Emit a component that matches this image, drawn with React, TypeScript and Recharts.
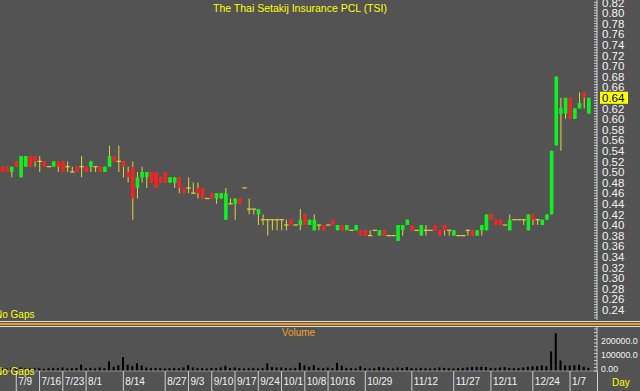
import React from "react";
import { ComposedChart, Bar, XAxis, YAxis } from "recharts";

// trading days, one candle each (index = day number)
const tickDays = [3, 8, 13, 18, 26, 35, 40, 45, 50, 55, 60, 65, 70, 78, 88, 97, 105, 114, 122];
const tickLabels = ["7/9", "7/16", "7/23", "8/1", "8/14", "8/27", "9/3", "9/10", "9/17", "9/24", "10/1", "10/8", "10/16", "10/29", "11/12", "11/27", "12/11", "12/24", "1/7"];

const opens = [
  0.51, 0.51, 0.5, 0.52, 0.49, 0.51, 0.53, 0.53, 0.52, 0.52, 0.51, 0.51, 0.52, 0.52, 0.51, 0.5, 0.51, 0.51, 0.51, 0.51,
  0.51, 0.51, 0.5, 0.51, 0.53, 0.52, 0.52, 0.5, 0.51, 0.47, 0.49, 0.49, 0.5, 0.5, 0.49, 0.5, 0.48, 0.48, 0.49, 0.47,
  0.47, 0.46, 0.47, 0.47, 0.45, 0.46, 0.45, 0.45, 0.41, 0.44, 0.44, 0.45, 0.47, 0.43, 0.43, 0.42, 0.41, 0.41, 0.41, 0.41,
  0.41, 0.4, 0.41, 0.4, 0.4, 0.42, 0.4, 0.39, 0.4, 0.4, 0.4, 0.41, 0.39, 0.4, 0.39, 0.39, 0.39, 0.39, 0.39, 0.38,
  0.39, 0.38, 0.39, 0.38, 0.38, 0.37, 0.39, 0.4, 0.4, 0.39, 0.38, 0.39, 0.39, 0.4, 0.39, 0.4, 0.39, 0.38, 0.38, 0.38,
  0.39, 0.39, 0.38, 0.39, 0.39, 0.42, 0.41, 0.41, 0.4, 0.39, 0.41, 0.41, 0.41, 0.39, 0.42, 0.41, 0.4, 0.41, 0.42, 0.55,
  0.61, 0.61, 0.64, 0.6, 0.62, 0.65, 0.61,
];
const highs = [
  0.51, 0.51, 0.51, 0.52, 0.53, 0.53, 0.53, 0.53, 0.53, 0.52, 0.51, 0.52, 0.52, 0.52, 0.52, 0.51, 0.51, 0.53, 0.51, 0.52,
  0.51, 0.51, 0.51, 0.55, 0.53, 0.55, 0.52, 0.51, 0.52, 0.5, 0.51, 0.5, 0.5, 0.5, 0.49, 0.5, 0.49, 0.49, 0.49, 0.47,
  0.49, 0.48, 0.48, 0.47, 0.45, 0.46, 0.46, 0.46, 0.47, 0.45, 0.45, 0.45, 0.47, 0.45, 0.43, 0.43, 0.42, 0.41, 0.41, 0.41,
  0.41, 0.41, 0.41, 0.4, 0.43, 0.42, 0.41, 0.42, 0.4, 0.4, 0.4, 0.41, 0.4, 0.4, 0.4, 0.39, 0.4, 0.39, 0.39, 0.39,
  0.39, 0.39, 0.39, 0.38, 0.38, 0.4, 0.4, 0.41, 0.4, 0.39, 0.4, 0.4, 0.39, 0.4, 0.39, 0.4, 0.39, 0.39, 0.38, 0.38,
  0.39, 0.39, 0.39, 0.4, 0.42, 0.42, 0.41, 0.41, 0.4, 0.42, 0.41, 0.41, 0.41, 0.42, 0.42, 0.41, 0.41, 0.42, 0.54, 0.68,
  0.64, 0.64, 0.64, 0.62, 0.65, 0.65, 0.64,
];
const lows = [
  0.5, 0.5, 0.49, 0.51, 0.49, 0.51, 0.51, 0.51, 0.5, 0.51, 0.51, 0.51, 0.5, 0.5, 0.5, 0.5, 0.5, 0.49, 0.5, 0.5,
  0.5, 0.5, 0.5, 0.51, 0.52, 0.5, 0.49, 0.48, 0.41, 0.45, 0.48, 0.47, 0.48, 0.47, 0.48, 0.48, 0.48, 0.47, 0.46, 0.46,
  0.46, 0.46, 0.45, 0.45, 0.45, 0.45, 0.44, 0.45, 0.41, 0.44, 0.41, 0.44, 0.47, 0.42, 0.42, 0.4, 0.4, 0.38, 0.39, 0.39,
  0.39, 0.39, 0.4, 0.4, 0.39, 0.4, 0.4, 0.39, 0.39, 0.39, 0.4, 0.4, 0.39, 0.39, 0.39, 0.39, 0.39, 0.38, 0.38, 0.38,
  0.39, 0.38, 0.38, 0.38, 0.38, 0.37, 0.38, 0.4, 0.39, 0.39, 0.38, 0.38, 0.39, 0.39, 0.38, 0.38, 0.38, 0.38, 0.38, 0.38,
  0.38, 0.38, 0.38, 0.38, 0.39, 0.41, 0.4, 0.4, 0.4, 0.39, 0.41, 0.41, 0.4, 0.39, 0.4, 0.4, 0.4, 0.41, 0.42, 0.55,
  0.54, 0.6, 0.6, 0.6, 0.62, 0.62, 0.61,
];
const closes = [
  0.5, 0.5, 0.51, 0.51, 0.53, 0.53, 0.51, 0.52, 0.52, 0.51, 0.51, 0.52, 0.51, 0.5, 0.51, 0.5, 0.5, 0.51, 0.5, 0.52,
  0.51, 0.5, 0.51, 0.53, 0.52, 0.52, 0.51, 0.49, 0.45, 0.49, 0.5, 0.5, 0.48, 0.47, 0.48, 0.48, 0.49, 0.49, 0.47, 0.46,
  0.47, 0.46, 0.46, 0.45, 0.45, 0.45, 0.46, 0.46, 0.46, 0.44, 0.45, 0.44, 0.47, 0.43, 0.43, 0.43, 0.41, 0.41, 0.41, 0.41,
  0.41, 0.4, 0.4, 0.4, 0.41, 0.4, 0.41, 0.41, 0.4, 0.39, 0.4, 0.4, 0.4, 0.39, 0.4, 0.39, 0.4, 0.38, 0.38, 0.38,
  0.39, 0.39, 0.38, 0.38, 0.38, 0.4, 0.4, 0.41, 0.39, 0.39, 0.4, 0.39, 0.39, 0.39, 0.38, 0.39, 0.39, 0.39, 0.38, 0.38,
  0.39, 0.38, 0.39, 0.4, 0.42, 0.41, 0.4, 0.4, 0.4, 0.41, 0.41, 0.41, 0.41, 0.42, 0.41, 0.41, 0.41, 0.42, 0.54, 0.68,
  0.62, 0.64, 0.6, 0.62, 0.63, 0.64, 0.64,
];
const volumes = [
  20000, 18000, 22000, 20000, 25000, 20000, 18000, 22000, 20000, 15000, 20000, 22000, 20000, 25000, 18000, 20000, 22000, 45000, 20000, 22000,
  18000, 25000, 20000, 70000, 30000, 40000, 100000, 45000, 35000, 55000, 40000, 25000, 20000, 22000, 20000, 18000, 20000, 22000, 20000, 25000,
  42000, 25000, 22000, 20000, 18000, 22000, 20000, 25000, 38000, 22000, 25000, 20000, 18000, 20000, 22000, 18000, 20000, 55000, 28000, 25000,
  25000, 22000, 20000, 22000, 60000, 40000, 30000, 42000, 22000, 20000, 25000, 20000, 58000, 38000, 22000, 20000, 18000, 35000, 20000, 18000,
  20000, 30000, 25000, 20000, 18000, 25000, 22000, 28000, 20000, 18000, 22000, 20000, 18000, 20000, 25000, 22000, 20000, 18000, 20000, 22000,
  25000, 28000, 30000, 30000, 28000, 22000, 20000, 25000, 28000, 22000, 20000, 22000, 25000, 30000, 35000, 35000, 40000, 35000, 140000, 270000,
  75000, 40000, 40000, 42000, 45000, 30000, 22000,
];
const volumeLabels = [0, 100000, 200000];

const priceTicks = Array.from({ length: 120 }, (_, i) => Math.round((0.225 + i * 0.005) * 1000) / 1000);
const volumeTicks = Array.from({ length: 13 }, (_, i) => i * 25000);

const data = opens.map((o, i) => ({
  day: i,
  open: o,
  high: highs[i],
  low: lows[i],
  close: closes[i],
  range: [lows[i], highs[i]],
  volume: volumes[i],
}));

const lastClose = closes[closes.length - 1];

const BG = "#535353";
const AXIS = "#d0d0d0";
const WICK = "#e2d23c";
const UP = "#10f020";
const DOWN = "#f02424";
const FONT = "Liberation Sans, Arial, sans-serif";

function Candle(props: any) {
  const { x, y, width, height, payload } = props;
  if (!payload) return null;
  const { open, close, high, low } = payload;
  const top = Math.min(y, y + height);
  const h = Math.abs(height);
  const span = high - low;
  const py = (v: number) => (span > 0 ? top + ((high - v) / span) * h : top);
  const cx = x + width / 2;
  const bw = 3.6;
  const yo = py(open);
  const yc = py(close);
  return (
    <g>
      <line x1={cx} x2={cx} y1={top} y2={top + h} stroke={WICK} strokeWidth={1} />
      {open === close ? (
        <line x1={cx - 2.2} x2={cx + 2.2} y1={yo} y2={yo} stroke={WICK} strokeWidth={1.2} />
      ) : (
        <rect
          x={cx - bw / 2}
          y={Math.min(yo, yc)}
          width={bw}
          height={Math.max(Math.abs(yc - yo), 1)}
          fill={close > open ? UP : DOWN}
        />
      )}
    </g>
  );
}

function PriceTick(props: any) {
  const { x, y, payload } = props;
  const v = payload.value;
  const major = Math.round(v * 1000) % 20 === 0;
  const isLast = Math.abs(v - lastClose) < 1e-6;
  return (
    <g>
      <line x1={x - 3} x2={x} y1={y} y2={y} stroke={AXIS} />
      {major && isLast && <rect x={x + 3} y={y - 6} width={28} height={12} fill="#ffff00" />}
      {major && (
        <text x={x + 5} y={y} dy="0.36em" fill={isLast ? "#000" : "#f2f2f2"} fontSize={11.5} fontFamily={FONT}>
          {v.toFixed(2)}
        </text>
      )}
    </g>
  );
}

function VolumeTick(props: any) {
  const { x, y, payload } = props;
  const v = payload.value;
  const major = volumeLabels.includes(v);
  return (
    <g>
      <line x1={x - 3} x2={x} y1={y} y2={y} stroke={AXIS} />
      {major && (
        <text x={x + 4} y={y - 2} dy="0.36em" fill="#f2f2f2" fontSize={8.8} fontFamily={FONT}>
          {v === 0 ? "0.00" : v.toFixed(1)}
        </text>
      )}
    </g>
  );
}

function DayTick(props: any) {
  const { x, y, payload } = props;
  const label = tickLabels[tickDays.indexOf(payload.value)];
  return (
    <g>
      <line x1={x} x2={x} y1={y} y2={y + 20} stroke={AXIS} />
      <text x={x + 2} y={y + 14} fill="#f2f2f2" fontSize={10} fontFamily={FONT}>
        {label}
      </text>
    </g>
  );
}

const abs = (l: number, t: number): React.CSSProperties => ({ position: "absolute", left: l, top: t });

export default function App() {
  return (
    <div style={{ position: "absolute", left: 0, top: 0, width: 640, height: 391, background: BG, overflow: "hidden", fontFamily: FONT }}>
      <div style={abs(0, 0)}>
        <ComposedChart width={640} height={320} data={data} margin={{ top: 0, right: 0, bottom: 0, left: 0 }} barCategoryGap={0}>
          <XAxis dataKey="day" hide padding={{ left: 0, right: 6 }} />
          <YAxis
            orientation="right"
            width={43}
            domain={[0.2208, 0.8245]}
            allowDataOverflow
            ticks={priceTicks}
            interval={0}
            tickSize={0}
            tickMargin={0}
            tickLine={false}
            axisLine={{ stroke: AXIS }}
            tick={<PriceTick />}
          />
          <Bar dataKey="range" shape={<Candle />} isAnimationActive={false} />
        </ComposedChart>
      </div>

      <div style={{ ...abs(0, 2), width: 600, textAlign: "center", color: "#ffff00", fontSize: 10.5 }}>
        The Thai Setakij Insurance PCL (TSI)
      </div>
      <div style={{ ...abs(-5, 309), color: "#ffff00", fontSize: 10 }}>No Gaps</div>

      <div style={{ ...abs(0, 321), width: 640, height: 1, background: "#e0e0e0" }} />
      <div style={{ ...abs(0, 323), width: 640, height: 2, background: "#ef9a1a" }} />
      <div style={{ ...abs(0, 326), width: 640, height: 1, background: "#e0e0e0" }} />

      <div style={abs(0, 327)}>
        <ComposedChart width={640} height={64} data={data} margin={{ top: 0, right: 0, bottom: 0, left: 0 }} barCategoryGap={0}>
          <XAxis
            dataKey="day"
            height={20}
            padding={{ left: 0, right: 6 }}
            ticks={tickDays}
            interval={0}
            tickSize={0}
            tickMargin={0}
            tickLine={false}
            axisLine={{ stroke: "#8c8c8c" }}
            tick={<DayTick />}
          />
          <YAxis
            orientation="right"
            width={43}
            domain={[0, 314000]}
            allowDataOverflow
            ticks={volumeTicks}
            interval={0}
            tickSize={0}
            tickMargin={0}
            tickLine={false}
            axisLine={{ stroke: AXIS }}
            tick={<VolumeTick />}
          />
          <Bar dataKey="volume" fill="#000000" barSize={2} isAnimationActive={false} />
        </ComposedChart>
      </div>

      <div style={{ ...abs(0, 327), width: 597, textAlign: "center", color: "#f0a030", fontSize: 10 }}>Volume</div>
      <div style={{ ...abs(-5, 366), color: "#ffff00", fontSize: 10 }}>No Gaps</div>
      <div style={{ ...abs(597, 371), width: 1, height: 20, background: AXIS }} />
      <div style={{ ...abs(612, 377), color: "#ffff00", fontSize: 10 }}>Day</div>
    </div>
  );
}
